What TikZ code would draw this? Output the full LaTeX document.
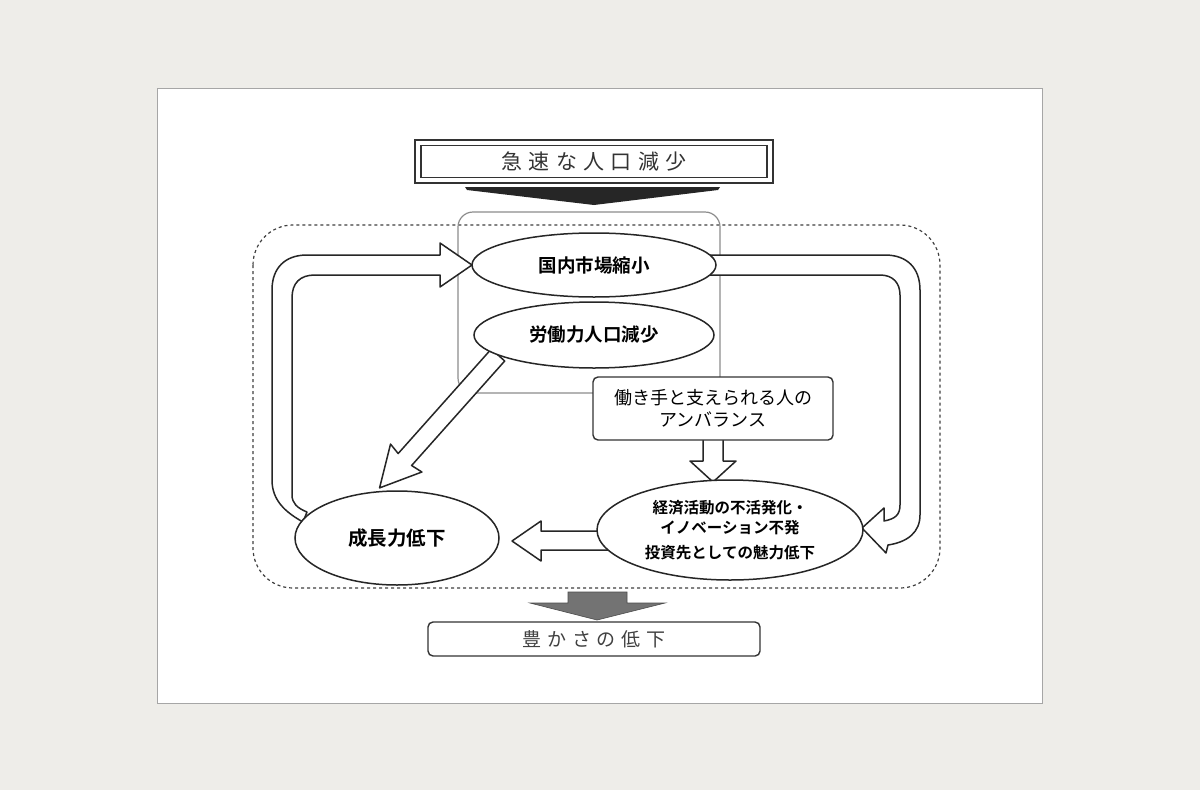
\documentclass[tikz,border=0pt]{standalone}
\usepackage{fontspec}
\setmainfont{Noto Sans CJK JP}
\newfontfamily\jpsp[LetterSpace=30]{Noto Sans CJK JP}
\newfontfamily\jpb{Noto Sans CJK JP Bold}
\usetikzlibrary{shapes.geometric}
\tikzset{
  hollow/.style={draw=black!85, fill=white, line width=1.5pt, line join=round},
  ell/.style={ellipse, draw=black!85, fill=white, line width=1.5pt, inner sep=0pt, font=\jpb, align=center},
  rbox/.style={draw=black!80, fill=white, rounded corners=5pt, line width=1.4pt, align=center}
}
\begin{document}
\begin{tikzpicture}[x=1pt,y=-1pt]
\useasboundingbox (0,0) rectangle (1200,790);
\fill[fill={rgb,255:red,238;green,237;blue,233}] (0,0) rectangle (1200,790);
\draw[fill=white, draw=black!35, line width=0.8pt] (157,88) rectangle (1042,703);
% top box
\node[draw=black!80, line width=1.4pt, minimum width=358pt, minimum height=43pt] (topo) at (594,161.5) {};
\node[draw=black!80, line width=1.2pt, minimum width=346pt, minimum height=32pt, font=\jpsp\fontsize{21}{23}\selectfont, text=black!80] (top) at (594,161.5) {急速な人口減少};
\fill[black!85] (465,187) -- (720,187) -- (718,190) -- (594,205) -- (467,190) -- cycle;
% frames
\draw[black!75, dashed, line width=1.2pt, rounded corners=40pt] (253,225) rectangle (940,588);
\draw[black!45, line width=1.2pt, rounded corners=15pt] (458,212) rectangle (720,393);
% left loop arrow
\draw[hollow] (303,522) .. controls (285,512) and (272,500) .. (272,480) -- (272,290) .. controls (272,268) and (285,255) .. (307,255) -- (440,255) -- (440,243) -- (472,265) -- (440,287) -- (440,275) -- (315,275) .. controls (300,275) and (292,283) .. (292,298) -- (292,495) .. controls (292,503) and (297,508) .. (307,512) -- cycle;
% right loop arrow
\draw[hollow] (705,255) -- (885,255) .. controls (907,255) and (920,268) .. (920,290) -- (920,515) .. controls (920,532) and (908,542) .. (888,545) -- (886,553) -- (862,528) -- (884,508) -- (884,521) .. controls (895,519) and (900,515) .. (900,505) -- (900,295) .. controls (900,283) and (893,275) .. (880,275) -- (705,275) -- cycle;
% diagonal arrow
\begin{scope}[shift={(498,355)}, rotate=228.3]
\draw[hollow] (0,-9) -- (140,-9) -- (138,-21) -- (178,0) -- (138,21) -- (140,9) -- (0,9) -- cycle;
\end{scope}
% small down arrow
\draw[hollow] (703,436) -- (723,436) -- (723,461) -- (736,461) -- (713,482) -- (690,461) -- (703,461) -- cycle;
% left arrow
\draw[hollow] (610,531) -- (541,531) -- (541,521) -- (512,541) -- (541,561) -- (541,550) -- (610,550) -- cycle;
% nodes
\node[ell, minimum width=244pt, minimum height=64pt, font=\jpb\fontsize{18.5}{20}\selectfont] (mkt) at (594,265) {国内市場縮小};
\node[ell, minimum width=240pt, minimum height=66pt, font=\jpb\fontsize{18.5}{20}\selectfont] (lab) at (594,335) {労働力人口減少};
\node[rbox, minimum width=240pt, minimum height=63pt, font=\fontsize{18}{22}\selectfont] (imb) at (713,408.5) {働き手と支えられる人の\\アンバランス};
\node[ell, minimum width=266pt, minimum height=100pt, font=\jpb\fontsize{15.5}{20}\selectfont] (eco) at (730,530) {経済活動の不活発化・\\イノベーション不発\\[5pt]投資先としての魅力低下};
\node[ell, minimum width=204pt, minimum height=94pt, font=\jpb\fontsize{19.5}{21}\selectfont] (grow) at (397,538) {成長力低下};
% bottom arrow
\draw[fill=black!55, draw=black!70, line width=0.6pt] (568,592) -- (627,592) -- (627,603) -- (665,603) -- (597,620) -- (530,603) -- (568,603) -- cycle;
\node[rbox, minimum width=332pt, minimum height=34pt, font=\jpsp\fontsize{19}{21}\selectfont, text=black!75] (rich) at (594,639) {豊かさの低下};
\end{tikzpicture}
\end{document}
